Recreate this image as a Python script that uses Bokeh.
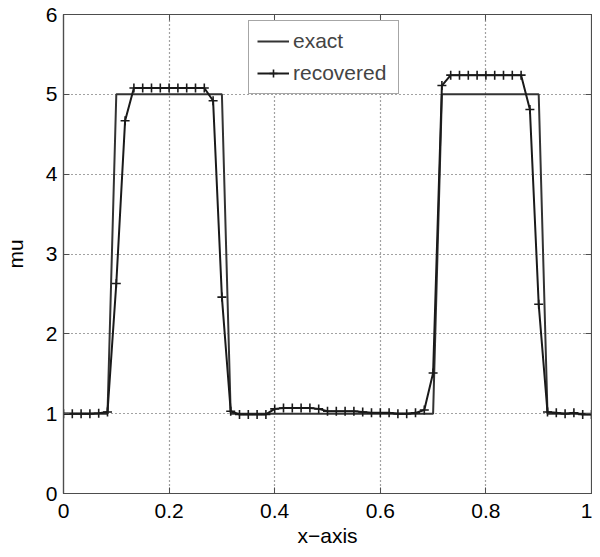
from bokeh.plotting import figure
from bokeh.models import Range1d, FixedTicker, LinearAxis, Legend, LegendItem
from bokeh.embed import file_html
from bokeh.resources import INLINE

# ---- data ----
n_points = 61
x_vals = [i / 60 for i in range(n_points)]

exact = ([1.0] * 6 + [5.0] * 13 + [1.0] * 24 + [5.0] * 12 + [1.0] * 6)

recovered = [
    1.00, 1.00, 1.00, 1.00, 1.005, 1.02,            # 0..5
    2.63, 4.67,                                      # 6,7
    5.08, 5.08, 5.08, 5.08, 5.08, 5.08, 5.08, 5.08, 5.08,  # 8..16
    4.92, 2.46, 1.03,                                # 17..19
    0.99, 0.99, 0.99, 0.99,                          # 20..23
    1.06, 1.07, 1.07, 1.07, 1.07, 1.06,              # 24..29
    1.03, 1.03, 1.03, 1.03, 1.02,                    # 30..34
    1.01, 1.01, 1.01, 1.00, 1.00, 1.01, 1.045,       # 35..41
    1.51, 5.11,                                      # 42,43
    5.24, 5.24, 5.24, 5.24, 5.24, 5.24, 5.24, 5.24, 5.24,  # 44..52
    4.81, 2.37, 1.02,                                # 53..55
    1.01, 1.00, 1.01, 0.99, 0.99,                    # 56..60
]

x_ticks = [0, 0.2, 0.4, 0.6, 0.8, 1]
x_tick_labels = ["0", "0.2", "0.4", "0.6", "0.8", "1"]
y_ticks = [0, 1, 2, 3, 4, 5, 6]
y_tick_labels = ["0", "1", "2", "3", "4", "5", "6"]

FONT = "Liberation Sans"
FS = "21px"

p = figure(width=592, height=549, output_backend="svg", toolbar_location=None,
           x_range=Range1d(0, 1), y_range=Range1d(0, 6),
           x_axis_label="x\u2212axis", y_axis_label="mu",
           min_border_left=63, min_border_right=1, min_border_top=14, min_border_bottom=54)

p.outline_line_color = "#4d4d4d"
p.outline_line_width = 1.2
p.background_fill_color = "white"
p.border_fill_color = "white"

for ax, ticks, labels in ((p.xaxis[0], x_ticks, x_tick_labels), (p.yaxis[0], y_ticks, y_tick_labels)):
    ax.ticker = FixedTicker(ticks=ticks)
    ax.major_label_overrides = {t: l for t, l in zip(ticks, labels)}
    ax.minor_tick_line_color = None
    ax.major_tick_in = 6
    ax.major_tick_out = 0
    ax.major_tick_line_color = "#4d4d4d"
    ax.axis_line_color = "#4d4d4d"
    ax.axis_line_width = 1.2
    ax.major_label_text_font = FONT
    ax.major_label_text_font_size = FS
    ax.major_label_text_color = "black"
    ax.axis_label_text_font = FONT
    ax.axis_label_text_font_size = FS
    ax.axis_label_text_font_style = "normal"
    ax.axis_label_text_color = "black"

p.xaxis[0].major_label_standoff = 10
p.xaxis[0].axis_label_standoff = 3
p.yaxis[0].major_label_standoff = 6
p.yaxis[0].axis_label_standoff = 16

# mirrored tick-only axes
for loc, ticks in (("above", x_ticks), ("right", y_ticks)):
    a = LinearAxis(ticker=FixedTicker(ticks=ticks), major_label_text_color=None,
                   major_tick_in=6, major_tick_out=0, minor_tick_line_color=None,
                   major_tick_line_color="#4d4d4d", axis_line_color="#4d4d4d",
                   major_label_standoff=0)
    p.add_layout(a, loc)

for g in (p.xgrid[0], p.ygrid[0]):
    g.grid_line_color = "#444444"
    g.grid_line_dash = "1 3"
    g.grid_line_width = 1.2
p.xgrid[0].ticker = FixedTicker(ticks=x_ticks)
p.ygrid[0].ticker = FixedTicker(ticks=y_ticks)

r_exact = p.line(x_vals, exact, line_color="#333333", line_width=2)
r_rec_line = p.line(x_vals, recovered, line_color="#1a1a1a", line_width=2)
r_rec_pts = p.scatter(x_vals, recovered, marker="cross", size=9, line_color="#1a1a1a", line_width=1.6)

legend = Legend(items=[LegendItem(label="exact", renderers=[r_exact]),
                       LegendItem(label="recovered", renderers=[r_rec_line, r_rec_pts])],
                location=(185, 399), orientation="vertical",
                label_text_font=FONT, label_text_font_size=FS,
                glyph_width=32, glyph_height=20, label_height=20, label_width=97,
                spacing=8, padding=8, margin=0, label_standoff=4,
                border_line_color="#4d4d4d", border_line_width=1.2,
                background_fill_alpha=1.0)
p.add_layout(legend, "center")

open("out.html", "w").write(file_html(p, INLINE))
